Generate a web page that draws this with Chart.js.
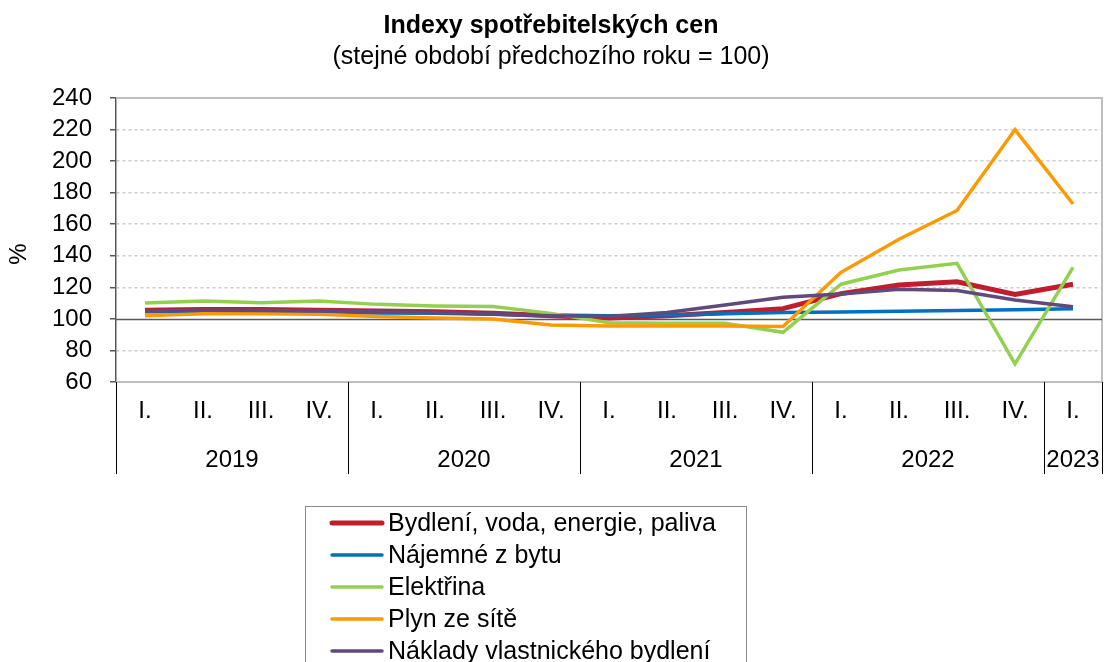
<!DOCTYPE html>
<html>
<head>
<meta charset="utf-8">
<script src="https://cdn.jsdelivr.net/npm/chart.js@4"></script>
<style>
  html, body { margin: 0; padding: 0; background: #fff; overflow: hidden; }
  #wrap { width: 1104px; height: 662px; }
</style>
</head>
<body>
<div id="wrap"><canvas id="graf" width="1104" height="662"></canvas></div>
<script>
// ctvrtleti a roky
const kvartaly = ['I.', 'II.', 'III.', 'IV.', 'I.', 'II.', 'III.', 'IV.', 'I.', 'II.', 'III.', 'IV.', 'I.', 'II.', 'III.', 'IV.', 'I.'];
const roky = ['2019', '2020', '2021', '2022', '2023'];
const rokyPocet = [4, 4, 4, 4, 1];
const osaY = [60, 80, 100, 120, 140, 160, 180, 200, 220, 240];

// hodnoty (stejne obdobi predchoziho roku = 100)
const bydleni = [105.5, 106, 106, 105.5, 105, 104.5, 103.5, 102, 100.5, 102, 104, 106.5, 116, 121.5, 123.5, 115.5, 122];
const najemne = [104.5, 104.5, 104.3, 104, 103.8, 103.5, 103, 102.5, 102, 102.5, 103.3, 104, 104.4, 104.8, 105.3, 105.8, 106.5];
const elektrina = [110, 111.3, 110.3, 111.3, 109.2, 108.2, 107.8, 103.5, 97.5, 97.3, 97.3, 91.5, 122, 131, 135.2, 71.5, 132.7];
const plyn = [102, 103.3, 103.3, 103, 101.5, 100.5, 100, 96.2, 95.5, 95.5, 95.5, 95.2, 129.5, 150.5, 168.7, 220, 172.8];
const naklady = [105, 105.5, 105.3, 105, 104.5, 104, 103, 102, 101.5, 104, 108.8, 113.7, 115.8, 118.8, 118, 112, 107.7];

const FONT = 'Liberation Sans, Arial, sans-serif';

const rady = [
  { label: 'Bydlení, voda, energie, paliva', data: bydleni, color: '#BE1E2D', w: 5 },
  { label: 'Nájemné z bytu', data: najemne, color: '#0070C0', w: 3.5 },
  { label: 'Elektřina', data: elektrina, color: '#92D050', w: 3.5 },
  { label: 'Plyn ze sítě', data: plyn, color: '#FF9900', w: 3.5 },
  { label: 'Náklady vlastnického bydlení', data: naklady, color: '#604A7B', w: 3.5 }
];

// osa x se dvema urovnemi, ramecek, cara 100 a legenda
const kresleni = {
  id: 'kresleni',
  beforeDatasetsDraw(chart) {
    const ctx = chart.ctx;
    const a = chart.chartArea;
    const y = chart.scales.y;
    ctx.save();
    // ramecek
    ctx.strokeStyle = '#bfbfbf';
    ctx.lineWidth = 2;
    ctx.beginPath();
    ctx.moveTo(a.left, a.top);
    ctx.lineTo(a.right, a.top);
    ctx.lineTo(a.right, a.bottom);
    ctx.lineTo(a.left, a.bottom);
    ctx.stroke();
    // cara 100
    ctx.strokeStyle = '#595959';
    ctx.lineWidth = 1.5;
    const y100 = Math.round(y.getPixelForValue(100)) + 0.5;
    ctx.beginPath();
    ctx.moveTo(a.left, y100);
    ctx.lineTo(a.right, y100);
    ctx.stroke();
    ctx.restore();
  },
  afterDraw(chart) {
    const ctx = chart.ctx;
    const a = chart.chartArea;
    const x = chart.scales.x;
    const krok = x.getPixelForValue(1) - x.getPixelForValue(0);
    ctx.save();
    ctx.fillStyle = '#000';
    ctx.textBaseline = 'middle';

    // popis osy y
    ctx.save();
    ctx.font = '24px ' + FONT;
    ctx.textAlign = 'center';
    ctx.translate(19, 254);
    ctx.rotate(-Math.PI / 2);
    ctx.fillText('%', 0, 0);
    ctx.restore();

    ctx.font = '24px ' + FONT;
    ctx.textAlign = 'center';
    kvartaly.forEach((q, i) => {
      ctx.fillText(q, x.getPixelForValue(i), a.bottom + 29);
    });
    ctx.strokeStyle = '#000';
    ctx.lineWidth = 1;
    let start = 0;
    const hranice = [];
    roky.forEach((r, k) => {
      const l = x.getPixelForValue(start) - krok / 2;
      const p = x.getPixelForValue(start + rokyPocet[k] - 1) + krok / 2;
      hranice.push(l);
      if (k === roky.length - 1) hranice.push(p);
      ctx.fillText(r, (l + p) / 2, a.bottom + 78);
      start += rokyPocet[k];
    });
    hranice.forEach(h => {
      const hx = Math.round(h) + 0.5;
      ctx.beginPath();
      ctx.moveTo(hx, a.bottom);
      ctx.lineTo(hx, a.bottom + 92);
      ctx.stroke();
    });

    // legenda
    const lx = 305, ly = 506;
    ctx.strokeStyle = '#8c8c8c';
    ctx.lineWidth = 1;
    ctx.strokeRect(lx + 0.5, ly + 0.5, 441, 200);
    ctx.textAlign = 'left';
    ctx.font = '25px ' + FONT;
    chart.data.datasets.forEach((ds, i) => {
      const ry = 523 + i * 32;
      ctx.strokeStyle = ds.borderColor;
      ctx.lineWidth = ds.borderWidth;
      ctx.lineCap = 'round';
      ctx.beginPath();
      ctx.moveTo(332, ry);
      ctx.lineTo(382, ry);
      ctx.stroke();
      ctx.fillStyle = '#000';
      ctx.fillText(ds.label, 388, ry + 1);
    });
    ctx.restore();
  }
};

new Chart(document.getElementById('graf'), {
  type: 'line',
  data: {
    labels: kvartaly,
    datasets: rady.map((r, i) => ({
      label: r.label,
      data: r.data,
      borderColor: r.color,
      backgroundColor: r.color,
      borderWidth: r.w,
      pointRadius: 0,
      tension: 0,
      order: rady.length - 1 - i
    }))
  },
  options: {
    responsive: false,
    animation: false,
    layout: { padding: { top: 0, left: 0, right: 2, bottom: 280 } },
    plugins: {
      legend: { display: false },
      tooltip: { enabled: false },
      title: {
        display: true,
        text: 'Indexy spotřebitelských cen',
        color: '#000',
        font: { family: FONT, size: 25, weight: 'bold' },
        padding: { top: 11, bottom: 0 }
      },
      subtitle: {
        display: true,
        text: '(stejné období předchozího roku = 100)',
        color: '#000',
        font: { family: FONT, size: 25 },
        padding: { top: 1, bottom: 26 }
      }
    },
    scales: {
      x: {
        display: false,
        offset: true
      },
      y: {
        min: 60,
        max: 240,
        afterBuildTicks(scale) {
          scale.ticks = osaY.map(v => ({ value: v }));
        },
        afterFit(scale) { scale.width = 116; },
        ticks: {
          color: '#000',
          font: { family: FONT, size: 24 },
          padding: 18,
          autoSkip: false
        },
        grid: {
          color: ctx => (ctx.tick && (ctx.tick.value === 240 || ctx.tick.value === 60 || ctx.tick.value === 100)) ? 'rgba(0,0,0,0)' : '#cccccc',
          tickColor: '#595959',
          tickLength: 6,
          lineWidth: 1.5
        },
        border: { color: '#595959', width: 1.5, dash: [3, 3] }
      }
    }
  },
  plugins: [kresleni]
});
</script>
</body>
</html>
